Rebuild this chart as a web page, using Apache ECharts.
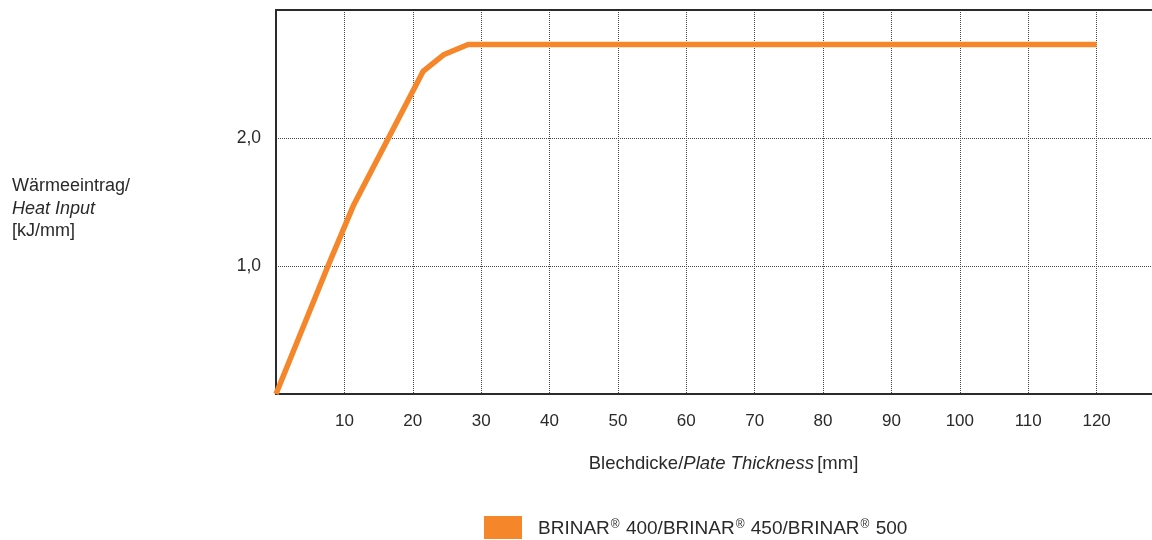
<!DOCTYPE html>
<html>
<head>
<meta charset="utf-8">
<script src="https://cdn.jsdelivr.net/npm/echarts@6/dist/echarts.min.js"></script>
<style>html,body{margin:0;padding:0;background:#fff}#c{width:1152px;height:540px}</style>
</head>
<body>
<div id="c"></div>
<script>
// Data
const thickness = [0, 7.6, 11.3, 21.5, 24.5, 28.1, 120];
const heatInput = [0, 1.0, 1.47, 2.52, 2.65, 2.73, 2.73];
const seriesName = 'BRINAR® 400/BRINAR® 450/BRINAR® 500';
const xTicks = [10, 20, 30, 40, 50, 60, 70, 80, 90, 100, 110, 120];
const yTicks = ['1,0', '2,0'];

const FONT = '"Liberation Sans", Arial, Helvetica, sans-serif';
const TXT = '#2a2a2a';
const chart = echarts.init(document.getElementById('c'), null, {renderer: 'canvas'});
chart.setOption({
  animation: false,
  backgroundColor: '#fff',
  textStyle: {fontFamily: FONT, color: TXT},
  title: {
    left: 7, top: 170,
    text: '{a|Wärmeeintrag/}\n{b|Heat Input}\n{a|[kJ/mm]}',
    textStyle: {
      fontWeight: 'normal',
      rich: {
        a: {fontFamily: FONT, fontSize: 18, color: TXT, lineHeight: 22.5, fontWeight: 'normal'},
        b: {fontFamily: FONT, fontSize: 18, color: TXT, lineHeight: 22.5, fontWeight: 'normal', fontStyle: 'italic'}
      }
    }
  },
  legend: {
    top: 511, left: 479,
    icon: 'rect', itemWidth: 38, itemHeight: 23, itemGap: 16,
    data: [seriesName],
    formatter: () => 'BRINAR{r|®} 400/BRINAR{r|®} 450/BRINAR{r|®} 500',
    textStyle: {
      fontFamily: FONT, fontSize: 19, color: TXT, padding: [2, 0, 0, 11],
      rich: {r: {fontFamily: FONT, fontSize: 12, color: TXT, padding: [0, 1, 7, 1]}}
    }
  },
  grid: {left: 276, top: 10, width: 889, bottom: 146, containLabel: false, outerBoundsMode: 'none'},
  xAxis: [{
    type: 'value', min: 0, max: 130, interval: 10,
    name: '{a|Blechdicke/}{b|Plate Thickness} {a|[mm]}',
    nameLocation: 'middle', nameGap: 60,
    nameTextStyle: {
      padding: [0, 0, 0, 6],
      rich: {
        a: {fontFamily: FONT, fontSize: 18.5, color: TXT},
        b: {fontFamily: FONT, fontSize: 18.5, color: TXT, fontStyle: 'italic'}
      }
    },
    axisLine: {show: true, lineStyle: {color: '#2b2b2b', width: 2}},
    axisTick: {show: false},
    axisLabel: {
      fontFamily: FONT, fontSize: 17, color: TXT, margin: 19,
      formatter: v => (xTicks.indexOf(v) >= 0 ? String(v) : '')
    },
    splitLine: {show: true, lineStyle: {color: '#444', type: 'dotted', width: 1}}
  }, {
    type: 'value', position: 'top', min: 0, max: 130,
    axisLine: {show: true, lineStyle: {color: '#2b2b2b', width: 2}},
    axisTick: {show: false}, axisLabel: {show: false}, splitLine: {show: false}
  }],
  yAxis: {
    type: 'value', min: 0, max: 3, interval: 1,
    axisLine: {show: true, lineStyle: {color: '#2b2b2b', width: 2}},
    axisTick: {show: false},
    axisLabel: {
      fontFamily: FONT, fontSize: 17.5, color: TXT, margin: 15,
      formatter: v => (v >= 1 && v <= yTicks.length ? yTicks[v - 1] : '')
    },
    splitLine: {show: true, lineStyle: {color: '#444', type: 'dotted', width: 1}}
  },
  series: [{
    name: seriesName,
    type: 'line',
    data: thickness.map((t, i) => [t, heatInput[i]]),
    showSymbol: false,
    symbol: 'none',
    itemStyle: {color: '#F5862A'},
    lineStyle: {color: '#F5862A', width: 5.5, join: 'round', cap: 'butt'},
    smooth: false
  }]
});
</script>
</body>
</html>
